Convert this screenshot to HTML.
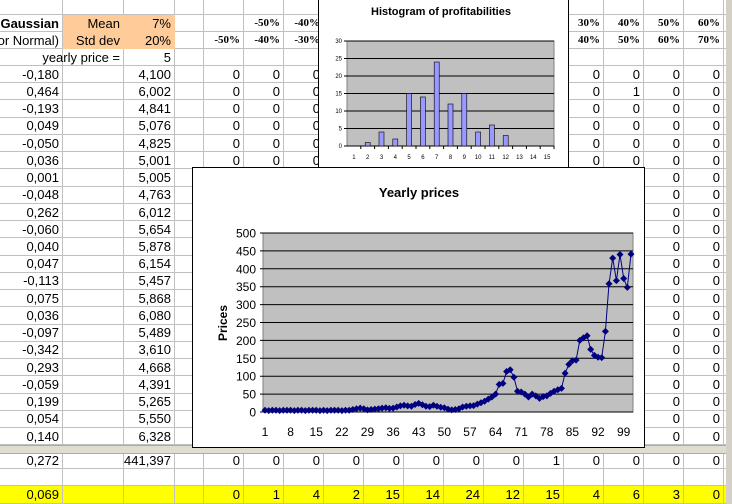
<!DOCTYPE html>
<html><head><meta charset="utf-8"><style>
body{margin:0;width:732px;height:504px;overflow:hidden;background:#fff;font-family:"Liberation Sans",sans-serif;position:relative}
.c{position:absolute;box-sizing:border-box;border-right:1px solid #c0c0c0;border-bottom:1px solid #c0c0c0;font-size:13px;display:flex;justify-content:flex-end;align-items:center;padding-right:3px;white-space:nowrap;overflow:visible}
.h{font-family:"Liberation Serif",serif;font-weight:bold;font-size:11px}
</style></head><body>
<div id="g"></div>
<svg id="s" width="732" height="504" style="position:absolute;left:0;top:0"></svg>
<script>
var X=[0,63,124,175,204,244,284,324,364,404,444,484,524,564,604,644,684,724,764];
var Y=[0,15,32,49,66];for(var i=1;i<=22;i++)Y.push(66+i*17.24);
var g=document.getElementById('g'),h='';
function cell(c,r0,r1,t,st,cls){if(t===undefined||t===null)t='';h+='<div class="c '+(cls||'')+'" style="left:'+X[c]+'px;top:'+r0+'px;width:'+(X[c+1]-X[c])+'px;height:'+(r1-r0)+'px;'+(st||'')+'">'+String(t)+'</div>';}
var A=['-0,180','0,464','-0,193','0,049','-0,050','0,036','0,001','-0,048','0,262','-0,060','0,040','0,047','-0,113','0,075','0,036','-0,097','-0,342','0,293','-0,059','0,199','0,054','0,140'];
var B=['4,100','6,002','4,841','5,076','4,825','5,001','5,005','4,763','6,012','5,654','5,878','6,154','5,457','5,868','6,080','5,489','3,610','4,668','4,391','5,265','5,550','6,328'];
var H1={5:'-50%',6:'-40%',7:'-30%',13:'30%',14:'40%',15:'50%',16:'60%'};
var H2={4:'-50%',5:'-40%',6:'-30%',13:'40%',14:'50%',15:'60%',16:'70%'};
var z=[0,0,0,0,0,0,0,0,1,0,0,0,0],yv=[0,1,4,2,15,14,24,12,15,4,6,3,0];
for(var c=0;c<18;c++){
 cell(c,0,15,'');
 var o=(c==1||c==2)?'background:#ffcc99;border-color:#ffcc99;':'';
 cell(c,15,32,c==0?'Gaussian':c==1?'Mean':c==2?'7%':(H1[c]||''),o+(c==0?'font-weight:bold;':''),H1[c]?'h':'');
 cell(c,32,49,c==0?'(or Normal)':c==1?'Std dev':c==2?'20%':(H2[c]||''),o+(c==0?'overflow:hidden;':''),H2[c]?'h':'');
 cell(c,49,66,c==1?'yearly price =':c==2?'5':'');
 for(var r=0;r<22;r++){var t='';if(c==0)t=A[r];else if(c==2)t=B[r];else if(c>=4&&c<17)t=(r==1&&c==14)?'1':'0';cell(c,Y[4+r],Y[5+r],t);}
 cell(c,452,469,c==0?'0,272':c==2?'441,397':(c>=4&&c<17)?String(z[c-4]):'');
 cell(c,469,486,'');
 cell(c,486,504,c==0?'0,069':(c>=4&&c<17)?String(yv[c-4]):'','background:#ffff00;');
}
h+='<div style="position:absolute;left:0;top:445px;width:732px;height:7px;background:#e0ddd0;border-top:1px solid #aaa;border-bottom:1px solid #aaa"></div>';
h+='<div style="position:absolute;left:726px;top:0;width:6px;height:504px;background:#d4d0c8"></div>';
g.innerHTML=h;
var s='';
s+='<rect x="318.5" y="-1" width="250" height="172" fill="#fff" stroke="#000"/>';
s+='<text x="441" y="15" font-size="11" font-weight="bold" text-anchor="middle" font-family="Liberation Sans">Histogram of profitabilities</text>';
var px=347,pw=207,py=41,ph=105;
s+='<rect x="'+px+'" y="'+py+'" width="'+pw+'" height="'+ph+'" fill="#c0c0c0" stroke="#808080"/>';
for(var k=0;k<=6;k++){var yy=py+ph-k*ph/6;s+='<line x1="'+(px-3)+'" x2="'+(px+pw)+'" y1="'+yy+'" y2="'+yy+'" stroke="#000" stroke-width="1"/><text x="'+(px-5)+'" y="'+(yy+2)+'" font-size="6" text-anchor="end" font-family="Liberation Sans">'+(k*5)+'</text>';}
var hv=[0,1,4,2,15,14,24,12,15,4,6,3,0,0,0],cw=pw/15;
for(var k=0;k<15;k++){var cx=px+(k+0.5)*cw,bh=hv[k]*ph/30;if(bh>0)s+='<rect x="'+(cx-2.5)+'" y="'+(py+ph-bh)+'" width="5" height="'+bh+'" fill="#9999ff" stroke="#000" stroke-width="0.6"/>';
s+='<line x1="'+(px+(k+1)*cw)+'" x2="'+(px+(k+1)*cw)+'" y1="'+(py+ph)+'" y2="'+(py+ph+3)+'" stroke="#000"/><text x="'+cx+'" y="'+(py+ph+13)+'" font-size="6" text-anchor="middle" font-family="Liberation Sans">'+(k+1)+'</text>';}
s+='<rect x="192.5" y="167.5" width="452" height="280" fill="#fff" stroke="#000"/>';
s+='<text x="419" y="197" font-size="13" font-weight="bold" text-anchor="middle" font-family="Liberation Sans">Yearly prices</text>';
s+='<text transform="translate(227,323) rotate(-90)" font-size="12" font-weight="bold" text-anchor="middle" font-family="Liberation Sans">Prices</text>';
var lx=263,lw=370,ly=233,lh=179;
s+='<rect x="'+lx+'" y="'+ly+'" width="'+lw+'" height="'+lh+'" fill="#c0c0c0" stroke="#808080"/>';
for(var k=0;k<=10;k++){var yy=ly+lh-k*lh/10;s+='<line x1="'+(lx-3)+'" x2="'+(lx+lw)+'" y1="'+yy+'" y2="'+yy+'" stroke="#000"/><text x="'+(lx-7)+'" y="'+(yy+4.5)+'" font-size="12" text-anchor="end" font-family="Liberation Sans">'+(k*50)+'</text>';}
var d=[5,4,5,5,4,5,5,5,4,5,5,4,5,5,5,4,5,4,5,5,5,4,5,5,7,9,11,9,6,7,8,9,11,12,10,11,14,17,19,17,16,21,24,20,16,15,19,16,13,12,8,6,7,9,14,16,17,18,22,26,30,36,42,50,77,80,113,118,97,58,56,50,42,50,45,38,43,45,52,58,62,66,108,133,143,145,200,207,213,175,158,153,152,225,358,430,367,440,373,348,441];
var st=(lw-4)/(d.length-1),pts=[];
for(var i=0;i<d.length;i++){var x=lx+2+i*st,y=ly+lh-d[i]*lh/500;pts.push(x.toFixed(1)+','+y.toFixed(1));}
s+='<polyline points="'+pts.join(' ')+'" fill="none" stroke="#000080" stroke-width="1"/>';
for(var i=0;i<pts.length;i++){var p=pts[i].split(',').map(Number);s+='<path d="M'+p[0]+' '+(p[1]-3.5)+'L'+(p[0]+3.5)+' '+p[1]+'L'+p[0]+' '+(p[1]+3.5)+'L'+(p[0]-3.5)+' '+p[1]+'Z" fill="#000080"/>';}
for(var i=0;i<d.length;i+=7){s+='<text x="'+(lx+2+i*st)+'" y="436" font-size="12" text-anchor="middle" font-family="Liberation Sans">'+(i+1)+'</text>';}
document.getElementById('s').innerHTML=s;
</script>
</body></html>
